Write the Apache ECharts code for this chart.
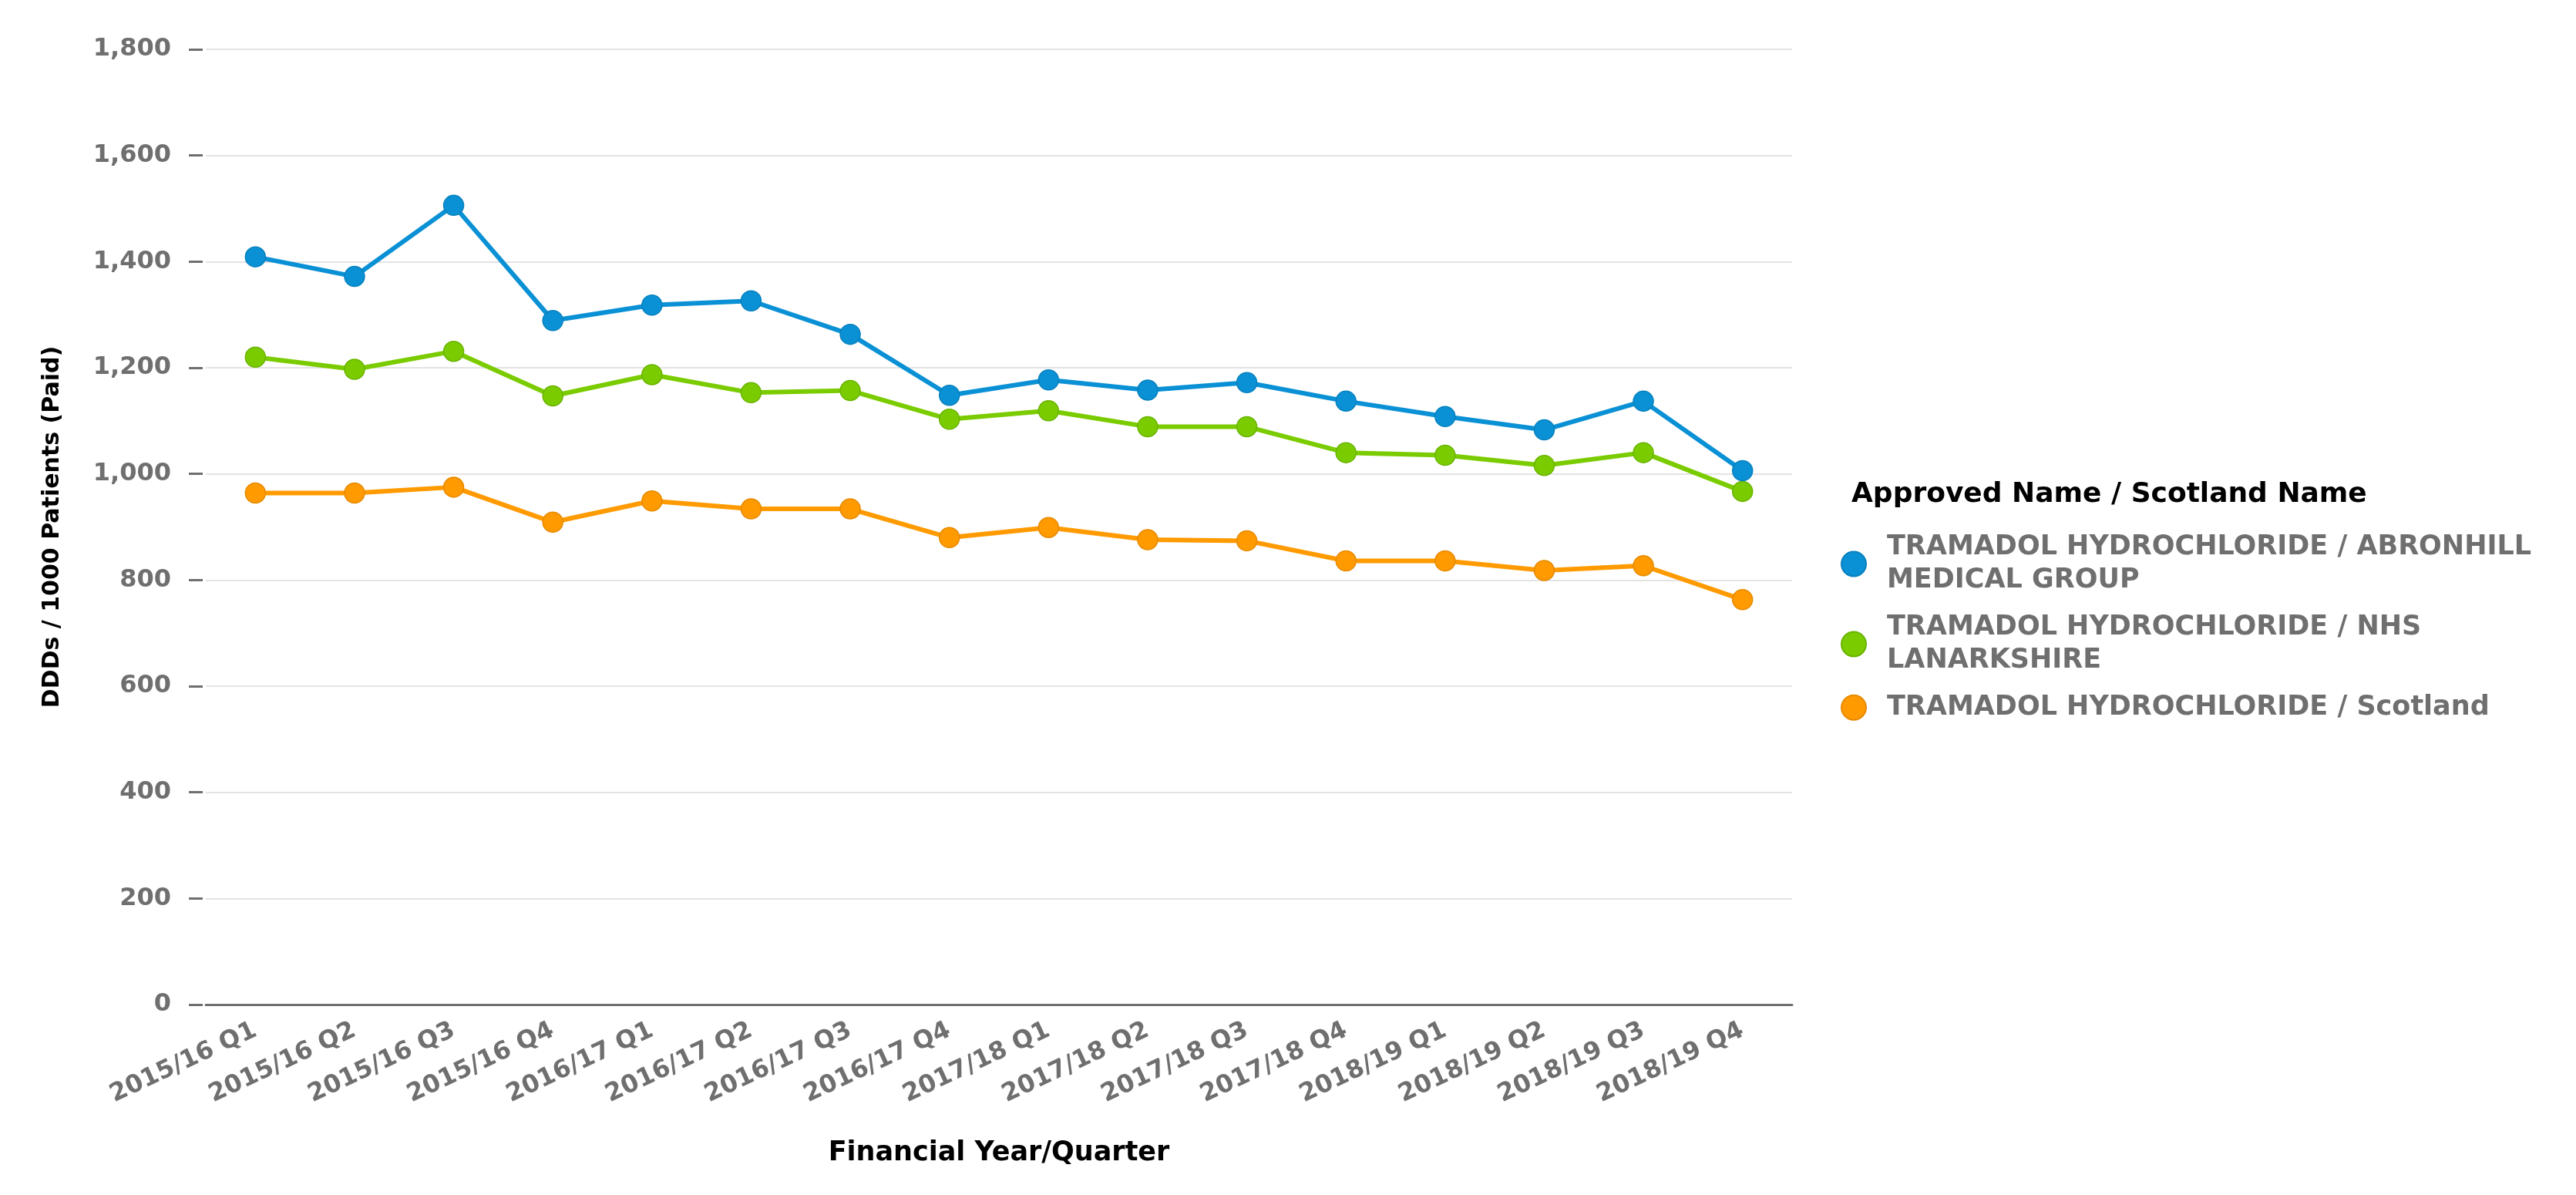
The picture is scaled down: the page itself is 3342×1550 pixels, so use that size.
<!DOCTYPE html>
<html>
<head>
<meta charset="utf-8">
<script src="https://cdn.jsdelivr.net/npm/echarts@6/dist/echarts.min.js"></script>
<style>
html,body{margin:0;padding:0;background:#fff;}
#chart{width:3342px;height:1550px;}
</style>
</head>
<body>
<div id="chart"></div>
<script>
const categories = ["2015/16 Q1","2015/16 Q2","2015/16 Q3","2015/16 Q4","2016/17 Q1","2016/17 Q2","2016/17 Q3","2016/17 Q4","2017/18 Q1","2017/18 Q2","2017/18 Q3","2017/18 Q4","2018/19 Q1","2018/19 Q2","2018/19 Q3","2018/19 Q4"];
const seriesNames = ["TRAMADOL HYDROCHLORIDE / ABRONHILL MEDICAL GROUP","TRAMADOL HYDROCHLORIDE / NHS LANARKSHIRE","TRAMADOL HYDROCHLORIDE / Scotland"];
const abronhill = [1409, 1372, 1506, 1289, 1318, 1326, 1263, 1148, 1177, 1158, 1172, 1137, 1108, 1083, 1137, 1006];
const lanarkshire = [1220, 1197, 1231, 1147, 1187, 1153, 1157, 1103, 1119, 1089, 1089, 1040, 1035, 1016, 1040, 967];
const scotland = [964, 964, 975, 909, 949, 934, 934, 880, 899, 876, 874, 836, 836, 818, 827, 763];
const colors = ["#0a91d5", "#7acc00", "#ff9a00"];
const borderColors = ["#0780bd", "#6ab300", "#e68a00"];
const yAxisTitle = "DDDs / 1000 Patients (Paid)";
const xAxisTitle = "Financial Year/Quarter";
const legendTitle = "Approved Name / Scotland Name";

const FONT = "DejaVu Sans";
const GRAY = "#6f6f6f";

function wrap(name, maxChars) {
  const words = name.split(" ");
  const lines = [];
  let cur = "";
  words.forEach(w => {
    const cand = cur ? cur + " " + w : w;
    if (cand.length > maxChars && cur) { lines.push(cur); cur = w; }
    else cur = cand;
  });
  if (cur) lines.push(cur);
  return lines.join("\n");
}

const dataSets = [abronhill, lanarkshire, scotland];
const chart = echarts.init(document.getElementById('chart'), null, {renderer: 'canvas'});
chart.setOption({
  animation: false,
  backgroundColor: '#ffffff',
  title: {
    text: legendTitle,
    left: 2402,
    top: 624,
    padding: 0,
    textStyle: {fontFamily: FONT, fontWeight: 'bold', fontSize: 36, color: '#000'}
  },
  legend: {
    orient: 'vertical',
    left: 2388,
    top: 688,
    padding: 0,
    itemGap: 17,
    itemWidth: 76,
    itemHeight: 32,
    icon: 'circle',
    data: seriesNames,
    formatter: n => wrap(n, 34),
    textStyle: {fontFamily: FONT, fontWeight: 'bold', fontSize: 35, color: GRAY, lineHeight: 43.5}
  },
  grid: {left: 267, right: 1017, top: 64, bottom: 247, containLabel: false},
  xAxis: {
    type: 'category',
    data: categories,
    boundaryGap: true,
    name: xAxisTitle,
    nameLocation: 'middle',
    nameGap: 175,
    nameTextStyle: {fontFamily: FONT, fontWeight: 'bold', fontSize: 35, color: '#000'},
    axisLine: {lineStyle: {color: GRAY, width: 3}},
    axisTick: {alignWithLabel: true, length: 15, lineStyle: {color: GRAY, width: 3}},
    axisLabel: {rotate: 25, margin: 32, interval: 0, fontFamily: FONT, fontWeight: 'bold', fontSize: 32, color: GRAY}
  },
  yAxis: {
    type: 'value',
    min: 0,
    max: 1800,
    interval: 200,
    offset: 4,
    name: yAxisTitle,
    nameLocation: 'middle',
    nameGap: 180,
    nameTextStyle: {fontFamily: FONT, fontWeight: 'bold', fontSize: 30, color: '#000'},
    axisLine: {show: false},
    axisTick: {show: true, length: 18, lineStyle: {color: GRAY, width: 3}},
    axisLabel: {margin: 41, fontFamily: FONT, fontWeight: 'bold', fontSize: 32, color: GRAY,
      formatter: v => v.toLocaleString('en-US')},
    splitLine: {lineStyle: {color: '#e3e3e3', width: 2}}
  },
  series: seriesNames.map((name, i) => ({
    name: name,
    type: 'line',
    data: dataSets[i],
    symbol: 'circle',
    symbolSize: 26,
    color: colors[i],
    lineStyle: {width: 6, color: colors[i]},
    itemStyle: {color: colors[i], borderColor: borderColors[i], borderWidth: 1.5},
    z: 10 - i
  }))
});
</script>
</body>
</html>
